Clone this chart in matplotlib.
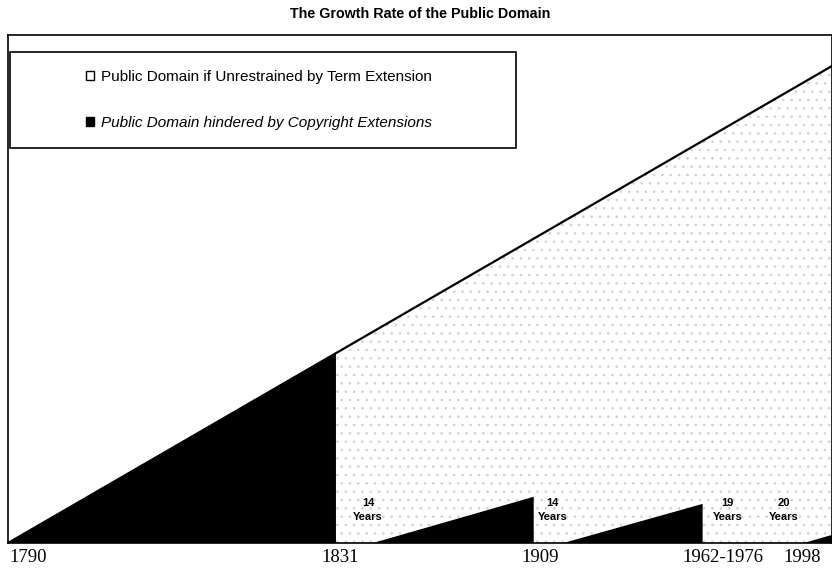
import matplotlib.pyplot as plt
import numpy as np
from matplotlib.patches import Patch, Rectangle

# schematic timeline (chart is not to scale), x in 0..100, y in 0..100
diag_x = [0, 100]
diag_y = [0, 93.9]

# black wedges: public domain actually growing
wedge_start = [0, 44.3, 67.4, 96.6]
wedge_end = [39.8, 63.8, 84.3, 100]
wedge_top = [37.4, 9.1, 7.7, 1.6]

year_labels = ['1790', '1831', '1909', '1962-1976', '1998']
year_pos = [0.2, 40.3, 64.6, 86.7, 96.4]

ext_labels = ['14\nYears', '14\nYears', '19\nYears', '20\nYears']
ext_pos = [43.7, 66.1, 87.3, 94.1]

legend_labels = ['Public Domain if Unrestrained by Term Extension',
                 'Public Domain hindered by Copyright Extensions']

plt.rcParams['hatch.linewidth'] = 0.6

W, H = 832, 569
fig = plt.figure(figsize=(W / 100, H / 100), dpi=100)
ax = fig.add_axes([8 / W, (H - 543) / H, 824 / W, 508 / H])
ax.set_xlim(0, 100)
ax.set_ylim(0, 100)

def diag(x):
    return np.interp(x, diag_x, diag_y)

# speckled area: what the public domain would be without extensions
xs = np.linspace(wedge_end[0], 100, 200)
ax.fill_between(xs, 0, diag(xs), facecolor='white', edgecolor='#cfcfcf',
                hatch='..', linewidth=0, zorder=1)

# black wedges
for s, e, t in zip(wedge_start, wedge_end, wedge_top):
    ax.fill([s, e, e], [0, t, 0], color='black', linewidth=0, zorder=2)

ax.plot(diag_x, diag_y, color='black', lw=1.6, zorder=3)

for lab, x in zip(ext_labels, ext_pos):
    ax.text(x, 6.4, lab, ha='center', va='center', fontsize=8,
            fontweight='bold', family='Liberation Sans', linespacing=1.5,
            zorder=4)

for i, (lab, x) in enumerate(zip(year_labels, year_pos)):
    ax.text(x, -1.2, lab, ha='left' if i == 0 else 'center', va='top',
            fontsize=13.5, family='Liberation Serif', clip_on=False)

ax.set_xticks([])
ax.set_yticks([])
for sp in ax.spines.values():
    sp.set_color('black')
    sp.set_linewidth(1.2)

# legend box
ax.add_patch(Rectangle((0.2, 100 - (52 - 35) / 5.08), 61.4, -(148 - 52) / 5.08,
                       facecolor='white', edgecolor='black', lw=1.2, zorder=5))
handles = [Patch(facecolor='white', edgecolor='black', lw=1),
           Patch(facecolor='black', edgecolor='black', lw=1)]
leg = ax.legend(handles, legend_labels, loc='upper left',
                bbox_to_anchor=((86 - 8) / 824, 1 - (70 - 35) / 508),
                frameon=False, handlelength=0.55,
                handleheight=0.55, handletextpad=0.4, labelspacing=2.1,
                borderpad=0, borderaxespad=0,
                prop={'family': 'Liberation Sans', 'size': 11})
leg.set_zorder(6)
leg.get_texts()[1].set_style('italic')

fig.text(420 / W, 1 - 14 / H, 'The Growth Rate of the Public Domain',
         ha='center', va='center', fontsize=10.3, fontweight='bold',
         family='Liberation Sans')

fig.savefig('out.png', dpi=100)
